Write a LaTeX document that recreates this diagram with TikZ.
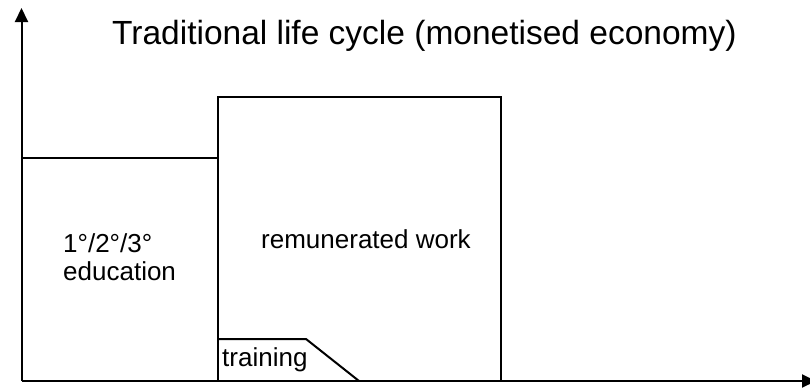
\documentclass[tikz,border=0pt]{standalone}
\usepackage{fontspec}
\setmainfont{Liberation Sans}
\usetikzlibrary{arrows.meta}
\begin{document}
\begin{tikzpicture}[x=1pt,y=-1pt,
  line/.style={line width=2pt},
  axis/.style={line width=2pt,-{Triangle[length=14pt,width=13pt]}},
  lbl/.style={font=\fontsize{26}{28}\selectfont, align=left, inner sep=0pt}]
\useasboundingbox (0,0) rectangle (810,388);
\coordinate (O) at (21.5,381);
\coordinate (ytop) at (21.5,8);
\coordinate (xend) at (816,381);
% boxes
\draw[line] (21.5,381) -- (21.5,158) -- (218,158) -- (218,381);
\draw[line] (218,158) -- (218,97) -- (501,97) -- (501,381);
\draw[line] (218,339) -- (306,339) -- (359,381);
\draw[axis] (O) -- (ytop);
\draw[axis] (O) -- (xend);
\node[font=\fontsize{33.5}{36}\selectfont, inner sep=0pt, anchor=base west] (title) at (112,44) {Traditional life cycle (monetised economy)};
\node[lbl, anchor=base west] (edu) at (63,252) {1°/2°/3°};
\node[lbl, anchor=base west] (edu2) at (63,280) {education};
\node[lbl, anchor=base west] (work) at (261,248) {remunerated work};
\node[lbl, anchor=base west] (train) at (222,366) {training};
\end{tikzpicture}
\end{document}
